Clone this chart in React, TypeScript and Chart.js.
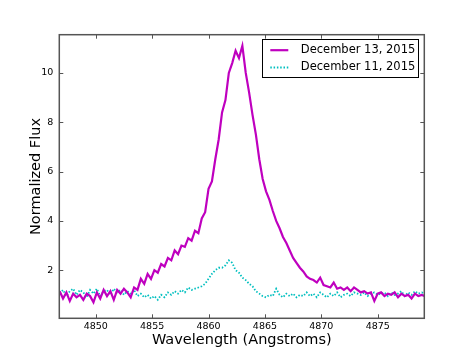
import React, { useEffect, useRef } from "react";
import { Chart, registerables } from "chart.js";

Chart.register(...registerables);

// Wavelength grid (Angstroms)
const wavelengths = [
  4846.8, 4847.1, 4847.4, 4847.7, 4848.0, 4848.3, 4848.6, 4848.9, 4849.2, 4849.5,
  4849.8, 4850.1, 4850.4, 4850.7, 4851.0, 4851.3, 4851.6, 4851.9, 4852.2, 4852.5,
  4852.8, 4853.1, 4853.4, 4853.7, 4854.0, 4854.3, 4854.6, 4854.9, 4855.2, 4855.5,
  4855.8, 4856.1, 4856.4, 4856.7, 4857.0, 4857.3, 4857.6, 4857.9, 4858.2, 4858.5,
  4858.8, 4859.1, 4859.4, 4859.7, 4860.0, 4860.3, 4860.6, 4860.9, 4861.2, 4861.5,
  4861.8, 4862.1, 4862.4, 4862.7, 4863.0, 4863.3, 4863.6, 4863.9, 4864.2, 4864.5,
  4864.8, 4865.1, 4865.4, 4865.7, 4866.0, 4866.3, 4866.6, 4866.9, 4867.2, 4867.5,
  4867.8, 4868.1, 4868.4, 4868.7, 4869.0, 4869.3, 4869.6, 4869.9, 4870.2, 4870.5,
  4870.8, 4871.1, 4871.4, 4871.7, 4872.0, 4872.3, 4872.6, 4872.9, 4873.2, 4873.5,
  4873.8, 4874.1, 4874.4, 4874.7, 4875.0, 4875.3, 4875.6, 4875.9, 4876.2, 4876.5,
  4876.8, 4877.1, 4877.4, 4877.7, 4878.0, 4878.3, 4878.6, 4878.9, 4879.2,
];

// Normalized flux, December 13, 2015
const fluxDec13 = [
  1.15, 0.85, 1.1, 0.75, 1.05, 0.9, 1.0, 0.8, 1.05, 0.95,
  0.7, 1.1, 0.85, 1.2, 0.95, 1.15, 0.8, 1.2, 1.05, 1.25,
  1.1, 0.9, 1.3, 1.2, 1.65, 1.45, 1.85, 1.65, 2.0, 1.9,
  2.25, 2.15, 2.5, 2.4, 2.8, 2.65, 3.0, 2.95, 3.3, 3.2,
  3.6, 3.5, 4.1, 4.35, 5.3, 5.6, 6.5, 7.3, 8.4, 8.9,
  10.0, 10.4, 10.9, 10.6, 11.1, 10.0, 9.2, 8.3, 7.5, 6.5,
  5.7, 5.2, 4.85, 4.4, 4.0, 3.7, 3.35, 3.1, 2.8, 2.5,
  2.3, 2.1, 1.95, 1.75, 1.65, 1.6, 1.5, 1.7, 1.4, 1.35,
  1.3, 1.5, 1.25, 1.3, 1.2, 1.3, 1.15, 1.3, 1.2, 1.1,
  1.15, 1.05, 1.1, 0.75, 1.05, 1.1, 0.95, 1.05, 1.0, 1.1,
  0.9, 1.05, 0.95, 1.0, 0.85, 1.05, 0.95, 1.0, 0.95,
];

// Normalized flux, December 11, 2015
const fluxDec11 = [
  1.05, 1.2, 0.95, 1.15, 1.25, 1.0, 1.2, 1.1, 0.9, 1.2,
  1.05, 1.25, 0.95, 1.15, 1.2, 1.0, 1.25, 1.1, 1.2, 1.0,
  1.15, 1.05, 1.2, 0.95, 1.05, 0.9, 1.0, 0.85, 0.95, 0.8,
  1.0, 0.9, 1.1, 1.0, 1.15, 1.05, 1.2, 1.1, 1.3, 1.2,
  1.25, 1.3, 1.35, 1.45, 1.65, 1.85, 2.0, 2.1, 2.1, 2.2,
  2.4, 2.3, 2.0, 1.9, 1.7, 1.6, 1.45, 1.35, 1.15, 1.05,
  0.95, 0.9, 1.0, 0.95, 1.25, 1.0, 0.9, 1.05, 0.95, 1.05,
  0.9, 1.0, 0.95, 1.1, 0.95, 1.05, 0.9, 1.1, 1.0, 0.9,
  1.05, 0.95, 1.1, 0.9, 1.0, 1.05, 0.95, 1.1, 1.05, 1.0,
  1.1, 0.95, 1.05, 1.1, 1.0, 1.05, 1.1, 0.95, 1.1, 1.0,
  1.05, 1.15, 0.95, 1.1, 1.0, 1.15, 1.05, 1.1, 1.05,
];

const seriesLabels = ["December 13, 2015", "December 11, 2015"];
const xTitle = "Wavelength (Angstroms)";
const yTitle = "Normalized Flux";

const FONT = '"DejaVu Sans", sans-serif';
const FRAME = "#555555";

const framePlugin = {
  id: "mplFrame",
  afterDatasetsDraw(chart: any) {
    const { ctx, chartArea: a, scales } = chart;
    ctx.save();
    ctx.strokeStyle = FRAME;
    ctx.lineWidth = 1;
    const tl = 4;
    ctx.beginPath();
    for (const t of scales.x.ticks) {
      const px = Math.round(scales.x.getPixelForValue(t.value)) + 0.5;
      ctx.moveTo(px, a.bottom);
      ctx.lineTo(px, a.bottom - tl);
      ctx.moveTo(px, a.top);
      ctx.lineTo(px, a.top + tl);
    }
    for (const t of scales.y.ticks) {
      const py = Math.round(scales.y.getPixelForValue(t.value)) + 0.5;
      ctx.moveTo(a.left, py);
      ctx.lineTo(a.left + tl, py);
      ctx.moveTo(a.right, py);
      ctx.lineTo(a.right - tl, py);
    }
    ctx.stroke();
    ctx.lineWidth = 1.5;
    ctx.strokeRect(a.left, a.top, a.right - a.left, a.bottom - a.top);
    ctx.restore();
  },
  afterDraw(chart: any) {
    const { ctx, chartArea: a } = chart;
    const w = 156;
    const h = 38;
    const x0 = a.right - 6 - w;
    const y0 = a.top + 4.5;
    ctx.save();
    ctx.fillStyle = "#ffffff";
    ctx.fillRect(x0, y0, w, h);
    ctx.strokeStyle = "#000000";
    ctx.lineWidth = 1;
    ctx.strokeRect(Math.round(x0) + 0.5, Math.round(y0) + 0.5, w, h);
    chart.data.datasets.forEach((ds: any, i: number) => {
      const cy = y0 + 11 + i * 17.3;
      ctx.strokeStyle = ds.borderColor;
      ctx.lineWidth = ds.borderWidth;
      ctx.setLineDash(ds.borderDash || []);
      ctx.beginPath();
      ctx.moveTo(x0 + 8, cy);
      ctx.lineTo(x0 + 26, cy);
      ctx.stroke();
      ctx.setLineDash([]);
      ctx.fillStyle = "#000000";
      ctx.font = `11.5px ${FONT}`;
      ctx.textBaseline = "middle";
      ctx.textAlign = "left";
      ctx.fillText(ds.label, x0 + 38.5, cy);
    });
    ctx.restore();
  },
};

export default function App() {
  const ref = useRef<HTMLCanvasElement | null>(null);

  useEffect(() => {
    if (!ref.current) return;
    const toPoints = (ys: number[]) => wavelengths.map((x, i) => ({ x, y: ys[i] }));
    const chart = new Chart(ref.current, {
      type: "line",
      data: {
        datasets: [
          {
            label: seriesLabels[0],
            data: toPoints(fluxDec13),
            borderColor: "#bf00bf",
            borderWidth: 2.2,
            pointRadius: 0,
            tension: 0,
            clip: 0,
          },
          {
            label: seriesLabels[1],
            data: toPoints(fluxDec11),
            borderColor: "#00bfbf",
            borderWidth: 1.8,
            borderDash: [1.5, 1.8],
            pointRadius: 0,
            tension: 0,
            clip: 0,
          },
        ],
      },
      options: {
        animation: false,
        responsive: false,
        devicePixelRatio: 1,
        layout: { padding: { left: 0, top: 34.7, right: 46.7, bottom: 0 } },
        plugins: { legend: { display: false }, tooltip: { enabled: false } },
        scales: {
          x: {
            type: "linear",
            min: 4846.77,
            max: 4879.13,
            grid: { display: false, drawTicks: false },
            border: { display: false },
            ticks: {
              stepSize: 5,
              includeBounds: false,
              autoSkip: false,
              maxRotation: 0,
              padding: 2.5,
              color: "#000",
              font: { family: FONT, size: 9.5 },
              callback: (v: any) => String(v),
            },
            title: {
              display: true,
              text: xTitle,
              color: "#000",
              font: { family: FONT, size: 14.5 },
              padding: { top: 0, bottom: 5.6 },
            },
            afterFit: (s: any) => {
              s.height = 36.7;
            },
          },
          y: {
            type: "linear",
            min: 0.05,
            max: 11.55,
            grid: { display: false, drawTicks: false },
            border: { display: false },
            ticks: {
              stepSize: 2,
              includeBounds: false,
              padding: 6,
              color: "#000",
              font: { family: FONT, size: 9.5 },
              callback: (v: any) => String(v),
            },
            title: {
              display: true,
              text: yTitle,
              color: "#000",
              font: { family: FONT, size: 14.5 },
              padding: { top: 27.1, bottom: 0 },
            },
            afterFit: (s: any) => {
              s.width = 59.3;
            },
          },
        },
      },
      plugins: [framePlugin],
    });
    return () => chart.destroy();
  }, []);

  return (
    <div style={{ position: "absolute", left: 0, top: 0, width: 471, height: 355, background: "#fff" }}>
      <canvas ref={ref} width={471} height={355} style={{ display: "block" }} />
    </div>
  );
}
